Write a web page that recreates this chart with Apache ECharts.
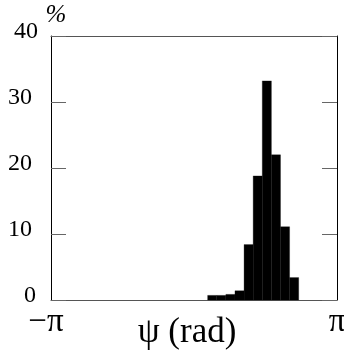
<!DOCTYPE html>
<html>
<head>
<meta charset="utf-8">
<script src="https://cdn.jsdelivr.net/npm/echarts@6/dist/echarts.min.js"></script>
<style>html,body{margin:0;padding:0;background:#fff;}#c{width:344px;height:354px;}</style>
</head>
<body>
<div id="c"></div>
<script>
// Histogram bins (rad): left edges, bin width 0.2 rad
const binStarts = [0.3, 0.5, 0.7, 0.9, 1.1, 1.3, 1.5, 1.7, 1.9, 2.1];
const binWidth = 0.2;
const percents = [0.7, 0.7, 0.85, 1.4, 8.4, 18.8, 33.2, 22.0, 11.1, 3.4];
const yTicks = [0, 10, 20, 30, 40];
const xTickLabels = {min: '\u2212\u03c0', max: '\u03c0'};

const PI = Math.PI;
const data = binStarts.map((s, i) => [s, s + binWidth, percents[i]]);
const serif = '"Liberation Serif", "DejaVu Serif", serif';

const chart = echarts.init(document.getElementById('c'), null, {renderer: 'canvas'});
chart.setOption({
  animation: false,
  grid: {left: 51, right: 7, top: 36, bottom: 54, show: false, containLabel: false, outerBoundsMode: 'none'},
  xAxis: [{
    type: 'value', min: -PI, max: PI, interval: PI,
    position: 'bottom',
    name: '\u03c8 (rad)', nameLocation: 'middle', nameGap: 33, nameMoveOverlap: false,
    nameTextStyle: {fontFamily: serif, fontSize: 35, color: '#000', padding: [0, 14, 0, 0], verticalAlign: 'middle'},
    axisLine: {show: true, onZero: false, lineStyle: {color: '#555', width: 1}},
    axisTick: {show: false},
    splitLine: {show: false},
    axisLabel: {
      color: '#000', margin: 6,
      showMinLabel: true, showMaxLabel: true,
      formatter: v => v < -3 ? '{a|' + xTickLabels.min + '}' : (v > 3 ? '{b|' + xTickLabels.max + '}' : ''),
      rich: {
        a: {fontFamily: serif, fontSize: 33, color: '#000', padding: [0, 10, 0, 0]},
        b: {fontFamily: serif, fontSize: 33, color: '#000', padding: [0, 0, 0, 0]}
      }
    }
  }, {
    type: 'value', min: -PI, max: PI, position: 'top',
    axisLine: {show: true, onZero: false, lineStyle: {color: '#555', width: 1}},
    axisTick: {show: false}, axisLabel: {show: false}, splitLine: {show: false}
  }],
  yAxis: [{
    type: 'value', min: 0, max: 40, interval: 10, position: 'left',
    name: '%', nameLocation: 'end', nameGap: 8, nameMoveOverlap: false,
    nameTextStyle: {fontFamily: serif, fontSize: 25, fontStyle: 'italic', color: '#000', padding: [0, 0, 0, 10]},
    axisLine: {show: true, onZero: false, lineStyle: {color: '#000', width: 1}},
    axisTick: {show: true, inside: true, length: 15, lineStyle: {color: '#666', width: 1}},
    splitLine: {show: false},
    axisLabel: {
      margin: 13, color: '#000',
      formatter: v => v === 40 ? '{t|' + v + '}' : (v === 0 ? '{z|' + v + '}' : '{m|' + v + '}'),
      rich: {
        t: {fontFamily: serif, fontSize: 24, color: '#000', padding: [0, 0, 8, 0]},
        m: {fontFamily: serif, fontSize: 24, color: '#000', padding: [0, 6, 8, 0]},
        z: {fontFamily: serif, fontSize: 24, color: '#000', padding: [0, 2, 8, 0]}
      }
    }
  }, {
    type: 'value', min: 0, max: 40, interval: 10, position: 'right',
    axisLine: {show: true, onZero: false, lineStyle: {color: '#000', width: 1}},
    axisTick: {show: true, inside: true, length: 15, lineStyle: {color: '#666', width: 1}},
    axisLabel: {show: false}, splitLine: {show: false}
  }],
  series: [{
    type: 'custom',
    xAxisIndex: 0, yAxisIndex: 0,
    data: data,
    renderItem: function (params, api) {
      const p0 = api.coord([api.value(0), 0]);
      const p1 = api.coord([api.value(1), api.value(2)]);
      return {
        type: 'rect',
        shape: {x: p0[0], y: p1[1], width: p1[0] - p0[0], height: p0[1] - p1[1]},
        style: {fill: '#000', stroke: '#000', lineWidth: 0.3}
      };
    }
  }]
});
</script>
</body>
</html>
